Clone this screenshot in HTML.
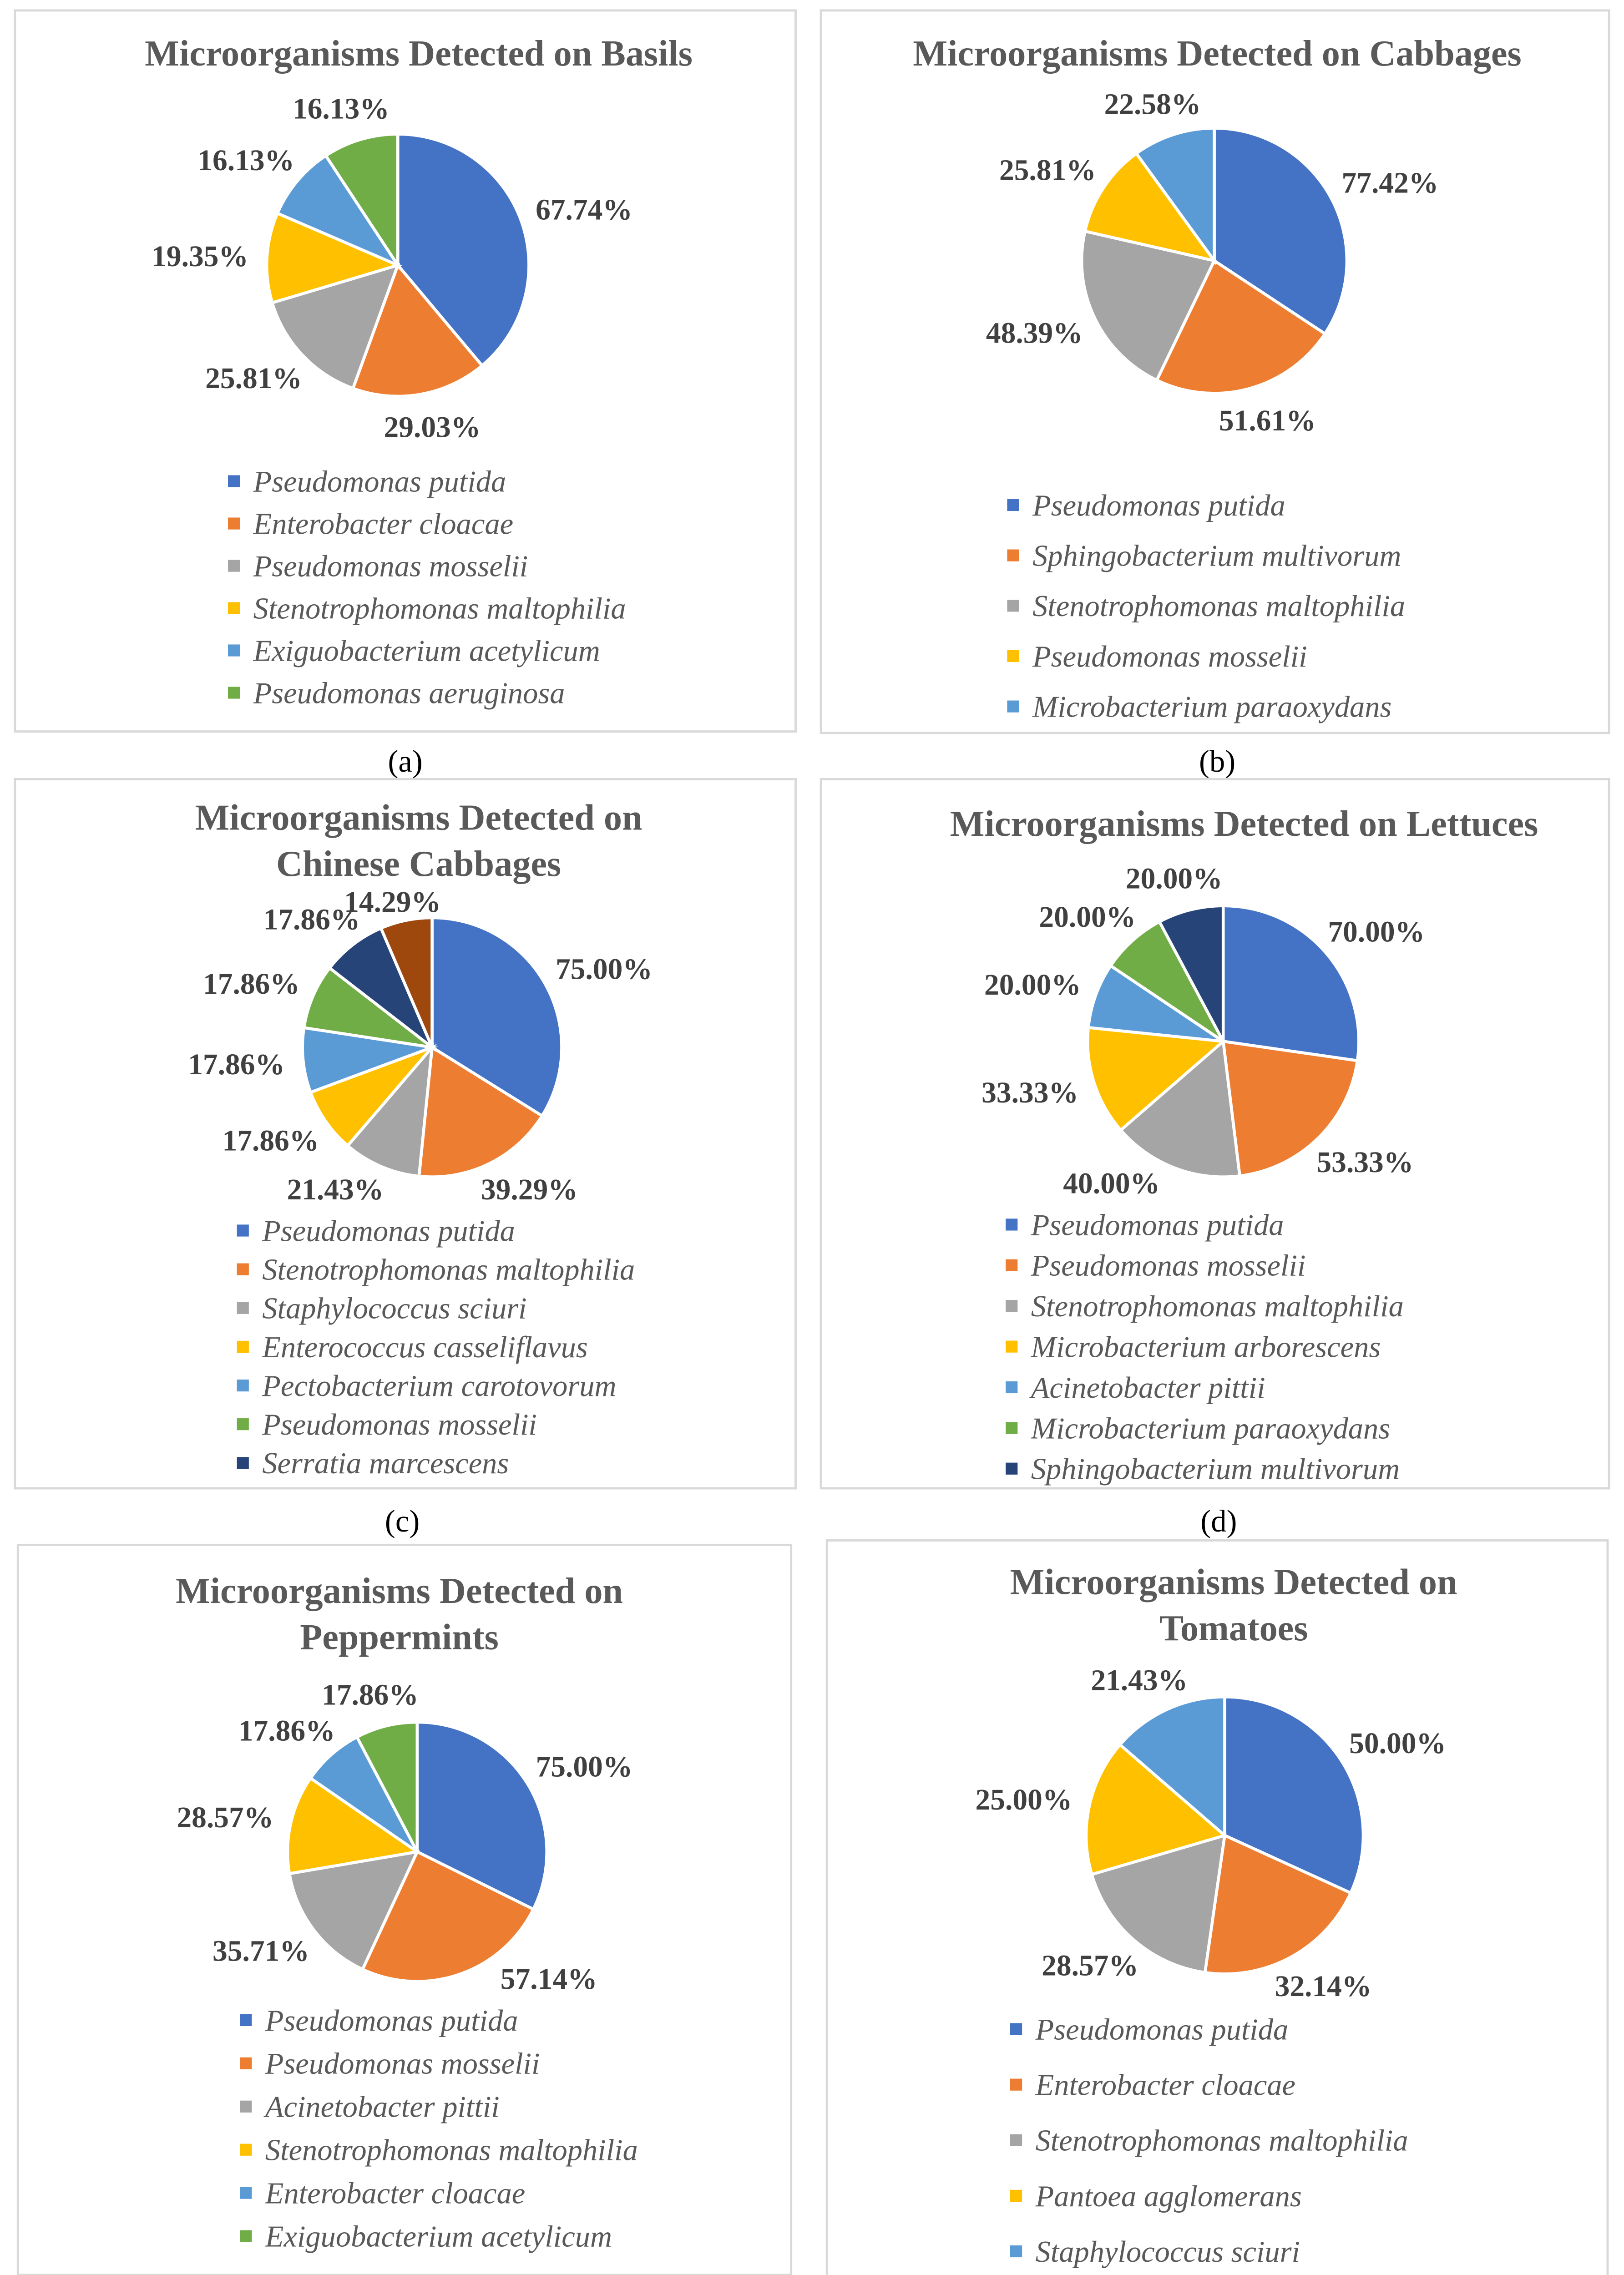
<!DOCTYPE html>
<html><head><meta charset="utf-8"><style>
html,body{margin:0;padding:0;background:#fff;width:3569px;height:5152px;overflow:hidden}
svg{display:block}
text{font-family:"Liberation Serif",serif}
</style></head><body>
<svg id="s" width="3569" height="5152" viewBox="0 0 1090 1573.5" xmlns="http://www.w3.org/2000/svg"></svg>
<script>
const colors=["#4472C4","#ED7D31","#A5A5A5","#FFC000","#5B9BD5","#70AD47","#264478","#9E480E"];
const basilsNames=["Pseudomonas putida","Enterobacter cloacae","Pseudomonas mosselii","Stenotrophomonas maltophilia","Exiguobacterium acetylicum","Pseudomonas aeruginosa"];
const basilsValues=[67.74,29.03,25.81,19.35,16.13,16.13];
const cabbagesNames=["Pseudomonas putida","Sphingobacterium multivorum","Stenotrophomonas maltophilia","Pseudomonas mosselii","Microbacterium paraoxydans"];
const cabbagesValues=[77.42,51.61,48.39,25.81,22.58];
const chineseNames=["Pseudomonas putida","Stenotrophomonas maltophilia","Staphylococcus sciuri","Enterococcus casseliflavus","Pectobacterium carotovorum","Pseudomonas mosselii","Serratia marcescens"];
const chineseValues=[75.00,39.29,21.43,17.86,17.86,17.86,17.86,14.29];
const lettucesNames=["Pseudomonas putida","Pseudomonas mosselii","Stenotrophomonas maltophilia","Microbacterium arborescens","Acinetobacter pittii","Microbacterium paraoxydans","Sphingobacterium multivorum"];
const lettucesValues=[70.00,53.33,40.00,33.33,20.00,20.00,20.00];
const peppermintsNames=["Pseudomonas putida","Pseudomonas mosselii","Acinetobacter pittii","Stenotrophomonas maltophilia","Enterobacter cloacae","Exiguobacterium acetylicum"];
const peppermintsValues=[75.00,57.14,35.71,28.57,17.86,17.86];
const tomatoesNames=["Pseudomonas putida","Enterobacter cloacae","Stenotrophomonas maltophilia","Pantoea agglomerans","Staphylococcus sciuri"];
const tomatoesValues=[50.00,32.14,28.57,25.00,21.43];

const panels=[
 {id:"basils",box:[10,7,524,484],title:["Microorganisms Detected on Basils"],ty:[36],tx:281,c:[267,178],r:88,names:basilsNames,vals:basilsValues,ly:323,ld:28.4,lx:157,cap:"(a)",capx:272,capy:511},
 {id:"cabbages",box:[551,7,529,485],title:["Microorganisms Detected on Cabbages"],ty:[36],tx:817,c:[815,175],r:89,names:cabbagesNames,vals:cabbagesValues,ly:339,ld:33.8,lx:680,cap:"(b)",capx:817,capy:511},
 {id:"chinese-cabbages",box:[10,523,524,476],title:["Microorganisms Detected on","Chinese Cabbages"],ty:[549,580],tx:281,c:[290,703],r:87,names:chineseNames,vals:chineseValues,ly:826,ld:26,lx:163,cap:"(c)",capx:270,capy:1021},
 {id:"lettuces",box:[551,523,529,476],title:["Microorganisms Detected on Lettuces"],ty:[553],tx:835,c:[821,699],r:91,names:lettucesNames,vals:lettucesValues,ly:822,ld:27.3,lx:679,cap:"(d)",capx:818,capy:1021},
 {id:"peppermints",box:[12,1037,519,490],title:["Microorganisms Detected on","Peppermints"],ty:[1068,1099],tx:268,c:[280,1243],r:87,names:peppermintsNames,vals:peppermintsValues,ly:1356,ld:29,lx:165,cap:"(e)",capx:270,capy:1551},
 {id:"tomatoes",box:[555,1034,524,496],title:["Microorganisms Detected on","Tomatoes"],ty:[1062,1093],tx:828,c:[822,1232],r:93,names:tomatoesNames,vals:tomatoesValues,ly:1362,ld:37.3,lx:682,cap:"(f)",capx:818,capy:1551}
];
const NS="http://www.w3.org/2000/svg";
const svg=document.getElementById("s");
function mk(tag,attrs,parent,txt){const e=document.createElementNS(NS,tag);for(const k in attrs)e.setAttribute(k,attrs[k]);if(txt!==undefined)e.textContent=txt;parent.appendChild(e);return e;}
panels.forEach(p=>{
 const g=mk("g",{},svg);
 
 
 const b=mk("rect",{x:p.box[0],y:p.box[1],width:p.box[2],height:p.box[3],fill:"#fff",stroke:"#D9D9D9","stroke-width":1.5},g);
 
 
 p.title.forEach((t,i)=>{
  const te=mk("text",{x:p.tx,y:p.ty[i]+8,"text-anchor":"middle","font-size":24.5,"font-weight":"bold",fill:"#595959"},g,t);
  
  
 });
 const total=p.vals.reduce((a,b)=>a+b,0);
 let a0=0;const [cx,cy]=p.c,r=p.r;
 const minY=p.ty[p.ty.length-1]+25, maxY=p.ly-28;
 p.vals.forEach((v,i)=>{
  const a1=a0+v/total*2*Math.PI;
  const x0=cx+r*Math.sin(a0),y0=cy-r*Math.cos(a0),x1=cx+r*Math.sin(a1),y1=cy-r*Math.cos(a1);
  const large=(a1-a0)>Math.PI?1:0;
  const sl=mk("path",{d:`M${cx},${cy}L${x0},${y0}A${r},${r} 0 ${large} 1 ${x1},${y1}Z`,fill:colors[i],stroke:"#fff","stroke-width":2},g);
  
  
  const am=(a0+a1)/2;
  let lx=cx+(r+45)*Math.sin(am),ly=cy-(r+22)*Math.cos(am);
  if(ly>maxY){lx+=Math.sign(Math.sin(am))*(ly-maxY)*2.5;ly=maxY;}
  if(ly<minY){ly=minY;}
  const lt=mk("text",{x:lx,y:ly+7,"text-anchor":"middle","font-size":20,"font-weight":"bold",fill:"#404040"},g,v.toFixed(2)+"%");
  
  
  a0=a1;
 });
 p.names.forEach((n,i)=>{
  const y=p.ly+i*p.ld;
  const sq=mk("rect",{x:p.lx-4,y:y-4,width:8,height:8,fill:colors[i]},g);
  
  
  const t=mk("text",{x:p.lx+13,y:y+7,"font-size":20.3,"font-style":"italic",fill:"#595959"},g,n);
  
  
 });
 const cp=mk("text",{x:p.capx,y:p.capy+7,"text-anchor":"middle","font-size":21,fill:"#000"},g,p.cap);
 
 
});
</script>
</body></html>
